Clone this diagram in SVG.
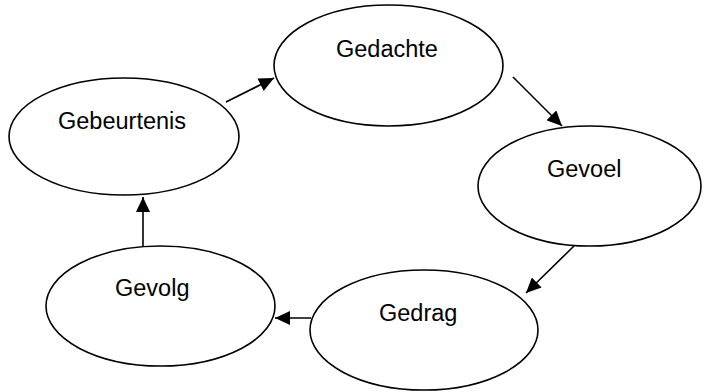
<svg xmlns="http://www.w3.org/2000/svg" width="703" height="392" viewBox="0 0 703 392">
  <defs>
    <marker id="arrow" viewBox="0 0 15 14" refX="15" refY="7" markerWidth="15" markerHeight="14" markerUnits="userSpaceOnUse" orient="auto">
      <path d="M0,0 L15,7 L0,14 z" fill="#000"/>
    </marker>
    <style>
      .node ellipse { fill: #fff; stroke: #000; stroke-width: 1.6; }
      .node text { font-family: "Liberation Sans", Arial, sans-serif; font-size: 23.5px; fill: #000; }
      .edge { stroke: #000; stroke-width: 1.6; fill: none; marker-end: url(#arrow); }
    </style>
  </defs>
  <rect width="703" height="392" fill="#fff"/>

  <g id="gebeurtenis" class="node">
    <ellipse cx="124" cy="136.5" rx="115" ry="58.5"/>
    <text x="58" y="129">Gebeurtenis</text>
  </g>
  <g id="gedachte" class="node">
    <ellipse cx="388.5" cy="65.5" rx="114.5" ry="60.5"/>
    <text x="336" y="57">Gedachte</text>
  </g>
  <g id="gevoel" class="node">
    <ellipse cx="589.5" cy="186" rx="111.5" ry="60"/>
    <text x="547" y="177">Gevoel</text>
  </g>
  <g id="gedrag" class="node">
    <ellipse cx="424" cy="330" rx="114" ry="60"/>
    <text x="379" y="321">Gedrag</text>
  </g>
  <g id="gevolg" class="node">
    <ellipse cx="160.5" cy="306" rx="114.5" ry="60"/>
    <text x="115" y="296">Gevolg</text>
  </g>

  <g id="connectors">
    <line class="edge" x1="226" y1="102" x2="274" y2="78"/>
    <line class="edge" x1="513" y1="77" x2="562" y2="126"/>
    <line class="edge" x1="574" y1="246" x2="526" y2="293"/>
    <line class="edge" x1="311" y1="318" x2="275" y2="318"/>
    <line class="edge" x1="143" y1="246" x2="143" y2="197"/>
  </g>
</svg>
